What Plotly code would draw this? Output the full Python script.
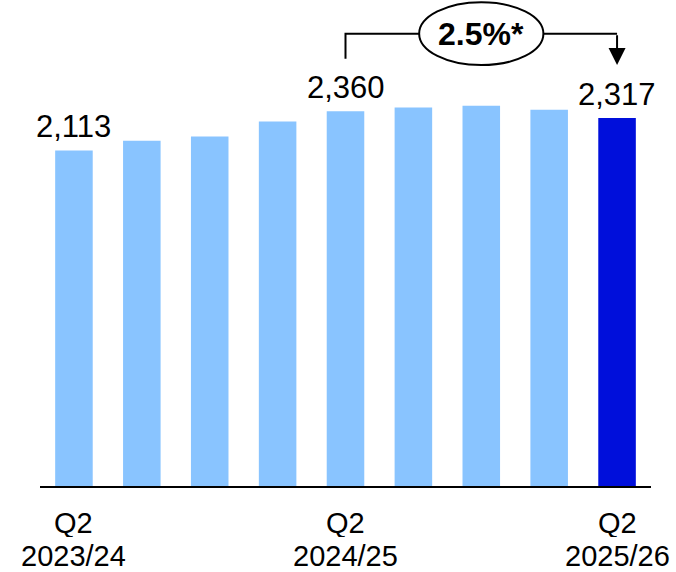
import plotly.graph_objects as go

# Quarterly values, Q2 2023/24 through Q2 2025/26
values = [2113, 2174, 2201, 2295, 2360, 2383, 2394, 2369, 2317]
labelled = [0, 4, 8]                      # bars that carry a value label
quarter_ticks = [0, 4, 8]
quarter_text = ["Q2", "Q2", "Q2"]
year_text = ["2023/24", "2024/25", "2025/26"]
change_text = "2.5%*"

light = "#89C4FF"
dark = "#000FDB"
colors = [light] * (len(values) - 1) + [dark]

x = list(range(len(values)))

fig = go.Figure(go.Bar(x=x, y=values, marker=dict(color=colors, line=dict(width=0)),
                       width=0.553, hoverinfo="skip"))

ymax = 3060
label_font = dict(family="Liberation Sans, Arial, sans-serif", size=31, color="#000000")
tick_font = dict(family="Liberation Sans, Arial, sans-serif", size=29, color="#000000")

annotations = []
for i in labelled:
    annotations.append(dict(x=i, y=values[i], xref="x", yref="y", text=f"{values[i]:,}",
                            showarrow=False, yanchor="bottom", yshift=4, font=label_font))

# Two-line category labels under the axis, one compact box per line
for i, q, yr in zip(quarter_ticks, quarter_text, year_text):
    annotations.append(dict(x=i, y=0, xref="x", yref="paper", text=q, showarrow=False,
                            yanchor="middle", yshift=-37, height=28, borderpad=0,
                            font=tick_font))
    annotations.append(dict(x=i, y=0, xref="x", yref="paper", text=yr, showarrow=False,
                            yanchor="middle", yshift=-70, height=28, borderpad=0,
                            font=tick_font))

# Bracket from Q2 2024/25 to Q2 2025/26 with the year-on-year change
start, end = 4, 8
level = 2848
left_drop = 2690
arrow_tip = 2650
mid = (start + end) / 2

shapes = [
    dict(type="path", xref="x", yref="y",
         path=f"M {start},{left_drop} L {start},{level} L {end},{level}",
         line=dict(color="#000000", width=2)),
    dict(type="circle", xref="x", yref="y", x0=mid - 0.915, x1=mid + 0.915,
         y0=level - 198, y1=level + 198, fillcolor="#FFFFFF",
         line=dict(color="#000000", width=2), layer="above"),
]

annotations.append(dict(x=end, y=arrow_tip, ax=end, ay=level, xref="x", yref="y",
                        axref="x", ayref="y", text="", showarrow=True, arrowhead=2,
                        arrowsize=1.7, arrowwidth=2, arrowcolor="#000000", standoff=0))
annotations.append(dict(x=mid, y=level, xref="x", yref="y", text=f"<b>{change_text}</b>",
                        showarrow=False, font=dict(family="Liberation Sans, Arial, sans-serif",
                                                   size=32, color="#000000")))

fig.update_layout(
    width=676, height=572,
    margin=dict(l=40, r=25, t=0, b=86),
    paper_bgcolor="#FFFFFF", plot_bgcolor="#FFFFFF",
    showlegend=False,
    xaxis=dict(range=[-0.5, 8.5], showticklabels=False, ticks="", showgrid=False,
               zeroline=False, showline=True, linecolor="#000000", linewidth=2, fixedrange=True),
    yaxis=dict(range=[0, ymax], visible=False, showgrid=False, zeroline=False, fixedrange=True),
    shapes=shapes,
    annotations=annotations,
)

fig.write_html("out.html")
